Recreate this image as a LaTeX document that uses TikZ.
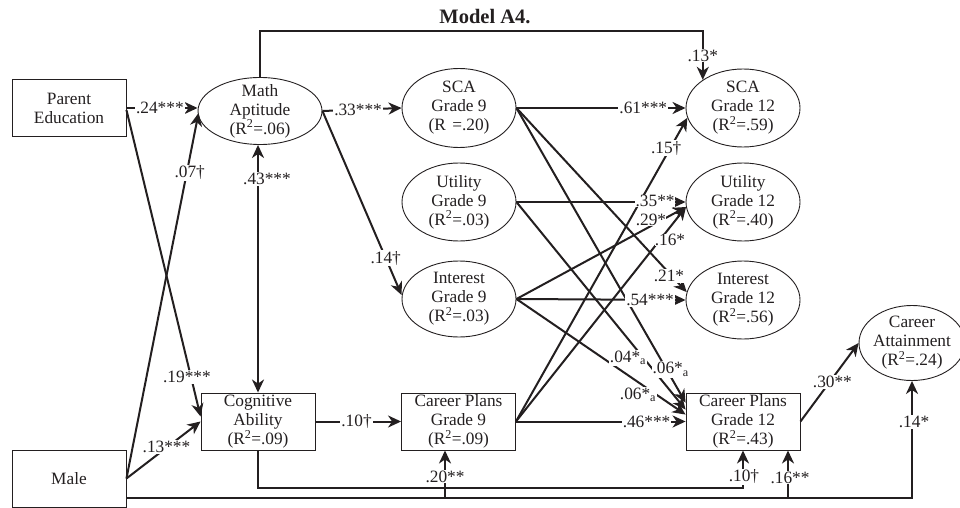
\documentclass[tikz,border=0pt]{standalone}
\usepackage{fontspec}
\setmainfont{Liberation Serif}
\usetikzlibrary{arrows.meta,calc,shapes.geometric}

\definecolor{ink}{HTML}{231F20}
\newcommand{\dgmfont}{\fontsize{17.3}{19}\selectfont}
\newcommand{\rsq}[1]{(R\textsuperscript{2}=#1)}

\begin{document}
\begin{tikzpicture}[x=1pt,y=-1pt,
  every node/.style={text=ink},
  box/.style={draw=ink, line width=0.9pt, rectangle, minimum width=114pt,
    minimum height=57pt, inner sep=0pt, align=center, font=\dgmfont},
  oval/.style={draw=ink, line width=0.9pt, ellipse, inner sep=0pt},
  txt/.style={align=center, font=\dgmfont, inner sep=0pt},
  conn/.style={draw=ink, line width=2pt, -{Stealth[length=13pt,width=12pt,inset=4pt]}},
  both/.style={draw=ink, line width=2pt,
    {Stealth[length=13pt,width=12pt,inset=4pt]}-{Stealth[length=13pt,width=12pt,inset=4pt]}},
  lbl/.style={fill=white, inner sep=1pt, font=\dgmfont},
]
\useasboundingbox (0,0) rectangle (960,508);

% title
\node[font=\bfseries\fontsize{20.5}{23}\selectfont] (title) at (485,17) {Model A4.};

% observed variables
\node[box] (pe)   at (69,108)    {Parent\\Education};
\node[box] (male) at (69,478.5)  {Male};
\node[box] (cog)  at (258,421.5) {Cognitive\\Ability\\\rsq{.09}};
\node[box] (cp9)  at (458.5,421.5) {Career Plans\\Grade 9\\\rsq{.09}};
\node[box] (cp12) at (743,421.5) {Career Plans\\Grade 12\\\rsq{.43}};

% latent variables
\node[oval, minimum width=124pt, minimum height=67pt] (ma) at (260,111) {};
\node[txt] (mat) at (ma) {Math\\Aptitude\\\rsq{.06}};
\node[oval, minimum width=114pt, minimum height=79pt] (sca9) at (459,108) {};
\node[txt] (sca9t) at (sca9) {SCA\\Grade 9\\(R\phantom{\textsuperscript{2}}=.20)};
\node[oval, minimum width=114pt, minimum height=78pt] (util9) at (459,202) {};
\node[txt] (util9t) at (util9) {Utility\\Grade 9\\\rsq{.03}};
\node[oval, minimum width=114pt, minimum height=76pt] (int9) at (459,299) {};
\node[txt] (int9t) at (int9) {Interest\\Grade 9\\\rsq{.03}};
\node[oval, minimum width=114pt, minimum height=78pt] (sca12) at (743,108) {};
\node[txt] (sca12t) at (sca12) {SCA\\Grade 12\\\rsq{.59}};
\node[oval, minimum width=114pt, minimum height=78pt] (util12) at (743,202) {};
\node[txt] (util12t) at (util12) {Utility\\Grade 12\\\rsq{.40}};
\node[oval, minimum width=114pt, minimum height=78pt] (int12) at (743,300) {};
\node[txt] (int12t) at (int12) {Interest\\Grade 12\\\rsq{.56}};
\node[oval, minimum width=106pt, minimum height=75pt] (ca) at (912,343) {};
\node[txt] (cat) at (ca) {Career\\Attainment\\\rsq{.24}};

% helper coordinates for routed lines
\coordinate (topline) at (0,31);
\coordinate (cogline) at (0,488);
\coordinate (mlstart) at ($(male.south east)+(0,-9)$);
\coordinate (cp9in)  at ($(cp9.south)+(-13.5,0)$);
\coordinate (cp12in) at ($(cp12.south)+(45,0)$);

% paths into the grade 9 block
\draw[conn] (pe.east) -- (pe.east -| ma.west) coordinate[pos=0.47] (l24);
\draw[conn] ($(pe.east)+(0,2)$) -- ($(cog.west)+(0,-5)$) coordinate[pos=0.87] (l19);
\draw[conn] (male.east) -- ($(ma.west)+(1,2)$) coordinate[pos=0.836] (l07);
\draw[conn] (male.east) -- (cog.west) coordinate[pos=0.54] (l13);
\draw[both] (cog.north) -- (cog.north |- ma.south);
\draw[conn] (ma.east) -- (sca9.west) coordinate[pos=0.45] (l33);
\draw[conn] (ma.east) -- ($(int9.west)+(0,-4)$) coordinate[pos=0.8] (l14a);
\draw[conn] (cog.east) -- (cp9.west) coordinate[pos=0.48] (l10a);
\draw[conn] (ma.north) |- (topline -| sca12.145) -- (sca12.145) coordinate[pos=0.5] (l13b);

% grade 9 to grade 12 paths
\draw[conn] (sca9.east) -- (sca12.west) coordinate[pos=0.75] (l61);
\draw[conn] (sca9.east) -- (int12.172) coordinate[pos=0.913] (l21);
\draw[conn] (sca9.east) -- ($(cp12.north west)+(0,10)$) coordinate[pos=0.888] (l06a);
\draw[conn] (util9.east) -- (util12.west) coordinate[pos=0.82] (l35);
\draw[conn] (util9.east) -- ($(cp12.north west)+(0,17)$);
\draw[conn] (int9.east) -- (util12.185) coordinate[pos=0.8] (l29);
\draw[conn] (int9.east) -- (int12.west) coordinate[pos=0.79] (l54);
\draw[conn] (int9.east) -- ($(cp12.north west)+(0,22)$);
\draw[conn] (cp9.east) -- (sca12.190) coordinate[pos=0.9] (l15);
\draw[conn] (cp9.east) -- (util12.185) coordinate[pos=0.86] (l16);
\draw[conn] (cp9.east) -- (cp12.west) coordinate[pos=0.77] (l46);
\draw[conn] (cp12.east) -- (ca.west) coordinate[pos=0.55] (l30);

% bottom routed paths
\draw[conn] (cog.south) |- (cogline -| cp12.south) -- (cp12.south);
\draw[conn] (mlstart) -| (ca.south);
\draw[conn] (mlstart -| cp9in) -- (cp9in);
\draw[conn] (mlstart -| cp12in) -- (cp12in);

% coefficients
\node[lbl] at (l24) {.24***};
\node[lbl] at ($(l19)+(-4,0)$) {.19***};
\node[lbl] at ($(l07)+(3,0)$) {.07†};
\node[lbl] at ($(l13)+(0,-1)$) {.13***};
\node[lbl] at (267,179) {.43***};
\node[lbl] at (l33) {.33***};
\node[lbl] at (l14a) {.14†};
\node[lbl] at (l10a) {.10†};
\node[lbl] at (l13b) {.13*};
\node[lbl] at (l61) {.61***};
\node[lbl] at ($(l21)+(-3,0)$) {.21*};
\node[lbl] at ($(l06a)+(4,0)$) {.06*\textsubscript{a}};
\node[lbl, inner sep=0.5pt] at ($(l35)+(0,-1)$) {.35**};
\node[lbl] at (628,358) {.04*\textsubscript{a}};
\node[lbl, inner sep=0pt] at (651,220) {.29*};
\node[lbl] at (l54) {.54***};
\node[lbl] at (638,395) {.06*\textsubscript{a}};
\node[lbl] at ($(l15)+(-4,0)$) {.15†};
\node[lbl, inner sep=0pt] at (670,240) {.16*};
\node[lbl] at (l46) {.46***};
\node[lbl] at ($(l30)+(0,4)$) {.30**};
\node[lbl] at (744,477) {.10†};
\node[lbl] at ($(cp9in)+(0,26)$) {.20**};
\node[lbl] at ($(cp12in)+(2,27)$) {.16**};
\node[lbl] at (914,422) {.14*};
\end{tikzpicture}
\end{document}
